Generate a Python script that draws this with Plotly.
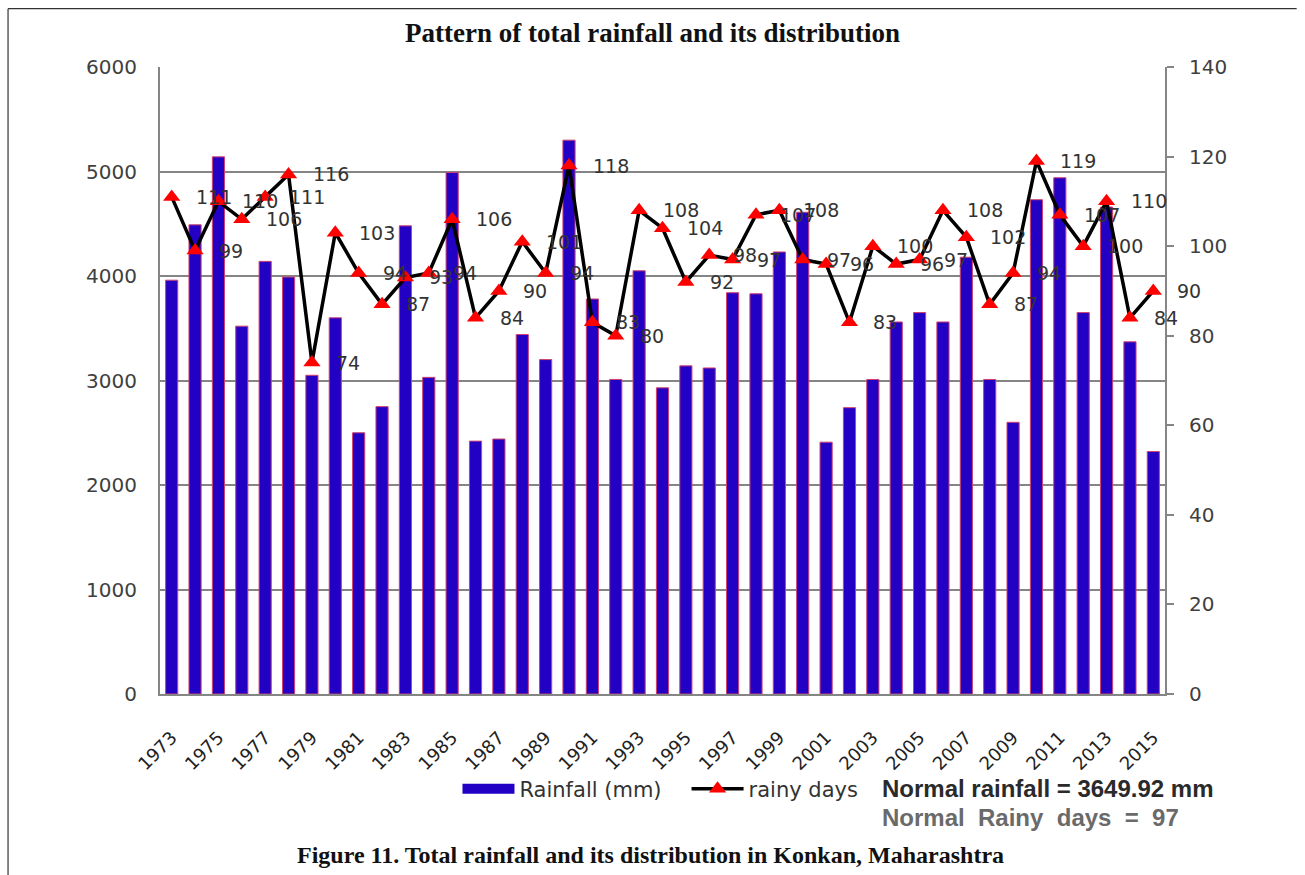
import plotly.graph_objects as go

# Annual rainfall and number of rainy days, Konkan (Maharashtra), 1973-2015
years = list(range(1973, 2016))
rainfall_mm = [
    3960, 4490, 5140, 3520, 4140, 3990, 3050, 3600, 2500, 2750,
    4480, 3030, 4990, 2420, 2440, 3440, 3200, 5300, 3780, 3010,
    4050, 2930, 3140, 3120, 3840, 3830, 4230, 4610, 2410, 2740,
    3010, 3560, 3650, 3560, 4180, 3010, 2600, 4730, 4940, 3650,
    4660, 3370, 2320,
]
rainy_days = [
    111, 99, 110, 106, 111, 116, 74, 103, 94, 87,
    93, 94, 106, 84, 90, 101, 94, 118, 83, 80,
    108, 104, 92, 98, 97, 107, 108, 97, 96, 83,
    100, 96, 97, 108, 102, 87, 94, 119, 107, 100,
    110, 84, 90,
]
year_ticks = list(range(1973, 2016, 2))
rain_ticks = list(range(0, 6001, 1000))
day_ticks = list(range(0, 141, 20))

title_text = "Pattern of total rainfall and its distribution"
caption_text = "Figure 11. Total rainfall and its distribution in Konkan, Maharashtra"
normal_rain_text = "Normal rainfall = 3649.92 mm"
normal_days_text = "Normal\u00a0\u00a0Rainy\u00a0\u00a0days\u00a0\u00a0=\u00a0\u00a097"

SANS = "DejaVu Sans"
SERIF = "Liberation Serif"
GRID = "#858585"
BAR_FILL = "#2200C4"
BAR_EDGE = "#D0406E"

fig = go.Figure()

fig.add_trace(go.Bar(
    x=years, y=rainfall_mm, name="Rainfall (mm)",
    width=0.52, showlegend=False,
    marker=dict(color=BAR_FILL, line=dict(color=BAR_EDGE, width=1)),
    yaxis="y",
))

# legend key for the bars, drawn as a wide block
fig.add_trace(go.Scatter(
    x=[None], y=[None], name="Rainfall (mm)\u00a0\u00a0\u00a0",
    mode="lines", line=dict(color=BAR_FILL, width=14),
    yaxis="y", hoverinfo="skip",
))

fig.add_trace(go.Scatter(
    x=years, y=rainy_days, name="rainy days",
    mode="lines+markers",
    line=dict(color="#000000", width=3.5),
    marker=dict(symbol="triangle-up", size=15, color="#FF0000"),
    yaxis="y2",
))

# value labels for the rainy-day series
annotations = [
    dict(x=x, y=v, xref="x", yref="y2", text=str(v), showarrow=False,
         xanchor="left", yanchor="middle", xshift=22,
         font=dict(family=SANS, size=19, color="#333333"))
    for x, v in zip(years, rainy_days)
]

annotations += [
    dict(x=0.4905, y=1.054, xref="paper", yref="paper", text=f"<b>{title_text}</b>",
         showarrow=False, xanchor="center", yanchor="middle",
         font=dict(family=SERIF, size=27, color="#111111")),
    dict(x=0.4876, y=-0.2568, xref="paper", yref="paper", text=f"<b>{caption_text}</b>",
         showarrow=False, xanchor="center", yanchor="middle",
         font=dict(family=SERIF, size=24, color="#111111")),
    dict(x=0.716, y=-0.150, xref="paper", yref="paper", text=f"<b>{normal_rain_text}</b>",
         showarrow=False, xanchor="left", yanchor="middle",
         font=dict(family="Liberation Sans", size=24, color="#2a2a2a")),
    dict(x=0.716, y=-0.1962, xref="paper", yref="paper", text=f"<b>{normal_days_text}</b>",
         showarrow=False, xanchor="left", yanchor="middle",
         font=dict(family="Liberation Sans", size=24, color="#6a6a6a")),
]

# page frame (left and top rules)
shapes = [
    dict(type="line", xref="paper", yref="paper", x0=-0.1512, x1=-0.1512, y0=1.093, y1=-0.30,
         line=dict(color="#333333", width=1.2)),
    dict(type="line", xref="paper", yref="paper", x0=-0.1512, x1=1.131, y0=1.093, y1=1.093,
         line=dict(color="#333333", width=1.2)),
]

fig.update_layout(
    width=1305, height=875,
    margin=dict(l=160, r=140, t=67, b=181),
    paper_bgcolor="white", plot_bgcolor="white",
    showlegend=True,
    legend=dict(orientation="h", x=0.296, y=-0.1515, xanchor="left", yanchor="middle",
                font=dict(family=SANS, size=21, color="#333333"),
                itemwidth=52, bgcolor="rgba(0,0,0,0)"),
    xaxis=dict(
        range=[1972.5, 2015.5], tickmode="array", tickvals=year_ticks,
        ticktext=[str(y) for y in year_ticks], tickangle=-45,
        tickfont=dict(family=SANS, size=18, color="#222222"),
        showgrid=False, zeroline=False, showline=True, linecolor=GRID, linewidth=2,
        ticks="", ticklabelstandoff=24,
    ),
    yaxis=dict(
        range=[0, 6000], tickmode="array", tickvals=rain_ticks,
        tickfont=dict(family=SANS, size=20, color="#404040"),
        showgrid=True, gridcolor=GRID, gridwidth=2, zeroline=False,
        showline=True, linecolor=GRID, linewidth=2, ticks="", ticklabelstandoff=17,
    ),
    yaxis2=dict(
        range=[0, 140], tickmode="array", tickvals=day_ticks, overlaying="y", side="right",
        tickfont=dict(family=SANS, size=20, color="#404040"),
        showgrid=False, zeroline=False, showline=True, linecolor=GRID, linewidth=2,
        ticks="outside", ticklen=7, tickcolor=GRID, tickwidth=1.5, ticklabelstandoff=11,
    ),
    annotations=annotations,
    shapes=shapes,
    bargap=0.48,
)

fig.write_html("out.html")
